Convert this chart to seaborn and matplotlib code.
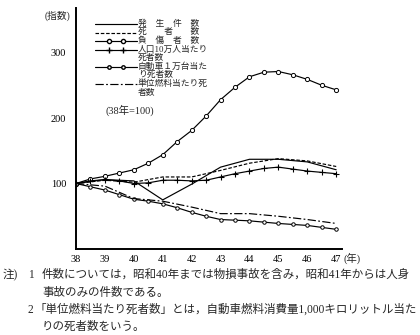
import numpy as np
import pandas as pd
import matplotlib
matplotlib.use("Agg")
import matplotlib.pyplot as plt
from matplotlib.lines import Line2D
import seaborn as sns

# --- data (index, 昭和38年 = 100) ---
years = [38, 39, 40, 41, 42, 43, 44, 45, 46, 47]
half_years = [38, 38.5, 39, 39.5, 40, 40.5, 41, 41.5, 42, 42.5,
              43, 43.5, 44, 44.5, 45, 45.5, 46, 46.5, 47]

accidents = [100, 106, 104, 75, 99, 125, 137, 137, 133, 121]          # 発生件数
deaths = [100, 105, 102, 110, 110, 120, 131, 138, 134.5, 126]         # 死者数
injured = [100, 107, 111, 116, 121, 131, 144, 164, 181, 203,
           228, 247, 263, 270, 271, 266, 259, 250, 243]               # 負傷者数
per_pop = [100, 104, 106, 104, 100, 101, 105, 105, 104, 105,
           110, 115, 119, 123, 125, 122, 119, 117, 115]               # 人口10万人当たり死者数
per_car = [100, 95, 90, 83, 76, 73, 69, 63, 56, 50,
           45, 44, 43, 41, 39, 37.5, 36, 33, 30]                      # 自動車1万台当たり死者数
per_fuel = [100, 96, 77, 73, 64, 54, 54, 50, 45, 39]                  # 単位燃料当たり死者数

x_ticks = [39, 40, 41, 42, 43, 44, 45, 46, 47]
y_ticks = [100, 200, 300]

annual = pd.DataFrame({"year": years, "accidents": accidents,
                       "deaths": deaths, "per_fuel": per_fuel})
semi = pd.DataFrame({"year": half_years, "injured": injured,
                     "per_pop": per_pop, "per_car": per_car})

sns.set_style("white")
plt.rcParams["font.family"] = ["Liberation Serif", "Noto Sans CJK JP", "DejaVu Sans"]

W, H = 420, 335
fig = plt.figure(figsize=(W / 100, H / 100), dpi=100)
ax = fig.add_axes([76 / W, 1 - 249 / H, (342 - 76) / W, (249 - 8) / H])

k = "black"
lw = 0.85
sns.lineplot(data=annual, x="year", y="accidents", ax=ax, color=k, lw=lw)
sns.lineplot(data=annual, x="year", y="deaths", ax=ax, color=k, lw=lw,
             linestyle=(0, (3, 1.5)))
sns.lineplot(data=semi, x="year", y="injured", ax=ax, color=k, lw=lw,
             marker="o", markersize=3, markerfacecolor="white",
             markeredgecolor=k, markeredgewidth=0.7)
sns.lineplot(data=semi, x="year", y="per_pop", ax=ax, color=k, lw=lw,
             marker="+", markersize=4, markeredgecolor=k, markeredgewidth=0.8)
sns.lineplot(data=semi, x="year", y="per_car", ax=ax, color=k, lw=lw,
             marker="o", markersize=2.5, markerfacecolor="white",
             markeredgecolor=k, markeredgewidth=0.7)
sns.lineplot(data=annual, x="year", y="per_fuel", ax=ax, color=k, lw=lw,
             linestyle=(0, (7, 2, 1.5, 2)))

ax.set_xlim(38, 47.2)
ax.set_ylim(0, 368)
ax.set_xlabel("")
ax.set_ylabel("")
sns.despine(ax=ax)
for s in ("left", "bottom"):
    ax.spines[s].set_linewidth(1.4)
    ax.spines[s].set_color(k)

ax.set_xticks([38] + x_ticks)
ax.set_xticklabels(["38"] + [str(v) for v in x_ticks], fontsize=7.5)
ax.set_yticks(y_ticks)
ax.set_yticklabels([str(v) for v in y_ticks], fontsize=7.5)
ax.tick_params(axis="x", direction="in", length=4, width=0.9, pad=4, colors=k)
ax.tick_params(axis="y", direction="out", length=5, width=0.9, pad=2, colors=k)
ax.xaxis.get_major_ticks()[0].tick1line.set_visible(False)

def fx(px):
    return px / W

def fy(py):
    return 1 - py / H

fig.text(fx(45), fy(16), "(指数)", fontsize=7, va="center", ha="left")
fig.text(fx(343), fy(258), "(年)", fontsize=7.5, va="center", ha="left")
fig.text(fx(106), fy(110), "(38年=100)", fontsize=7.5, va="center", ha="left")

# legend block: one multi-line label column, keys drawn beside their first line
label_lines = ["発　生　件　数", "死　　者　　数", "負　傷　者　数",
               "人口10万人当たり", "死者数",
               "自動車１万台当た", "り死者数",
               "単位燃料当たり死", "者数"]
top, bottom = 24, 92
pitch = (bottom - top) / (len(label_lines) - 1)
fig.text(fx(138), fy((top + bottom) / 2), "\n".join(label_lines),
         fontsize=6.3, va="center", ha="left", linespacing=1.05)

keys = [
    (0, dict(ls="-")),
    (1, dict(ls=(0, (3, 1.5)))),
    (2, dict(ls="-", marker="o", markersize=3, markerfacecolor="white",
             markevery=[1, 2])),
    (3, dict(ls="-", marker="+", markersize=4, markevery=[1, 2])),
    (5, dict(ls="-", marker="o", markersize=2.5, markerfacecolor="white",
             markevery=[1, 2])),
    (7, dict(ls=(0, (7, 2, 1.5, 2)))),
]
for row, style in keys:
    py = top + pitch * row
    xs = [fx(95), fx(109), fx(123), fx(137)]
    fig.add_artist(Line2D(xs, [fy(py)] * 4, color=k, lw=lw,
                          transform=fig.transFigure, markeredgecolor=k, **style))

# notes
nfs = 8.3
fig.text(fx(3), fy(275), "注)", fontsize=nfs, va="center", ha="left")
fig.text(fx(28), fy(275), "1", fontsize=nfs, va="center", ha="left")
fig.text(fx(42), fy(275), "件数については，昭和40年までは物損事故を含み，昭和41年からは人身",
         fontsize=nfs, va="center", ha="left")
fig.text(fx(42), fy(293), "事故のみの件数である。", fontsize=nfs, va="center", ha="left")
fig.text(fx(28), fy(310), "2", fontsize=nfs, va="center", ha="left")
fig.text(fx(35), fy(310), "「単位燃料当たり死者数」とは，自動車燃料消費量1,000キロリットル当た",
         fontsize=nfs, va="center", ha="left")
fig.text(fx(42), fy(327), "りの死者数をいう。", fontsize=nfs, va="center", ha="left")

fig.savefig("out.png", dpi=100, facecolor="white")
